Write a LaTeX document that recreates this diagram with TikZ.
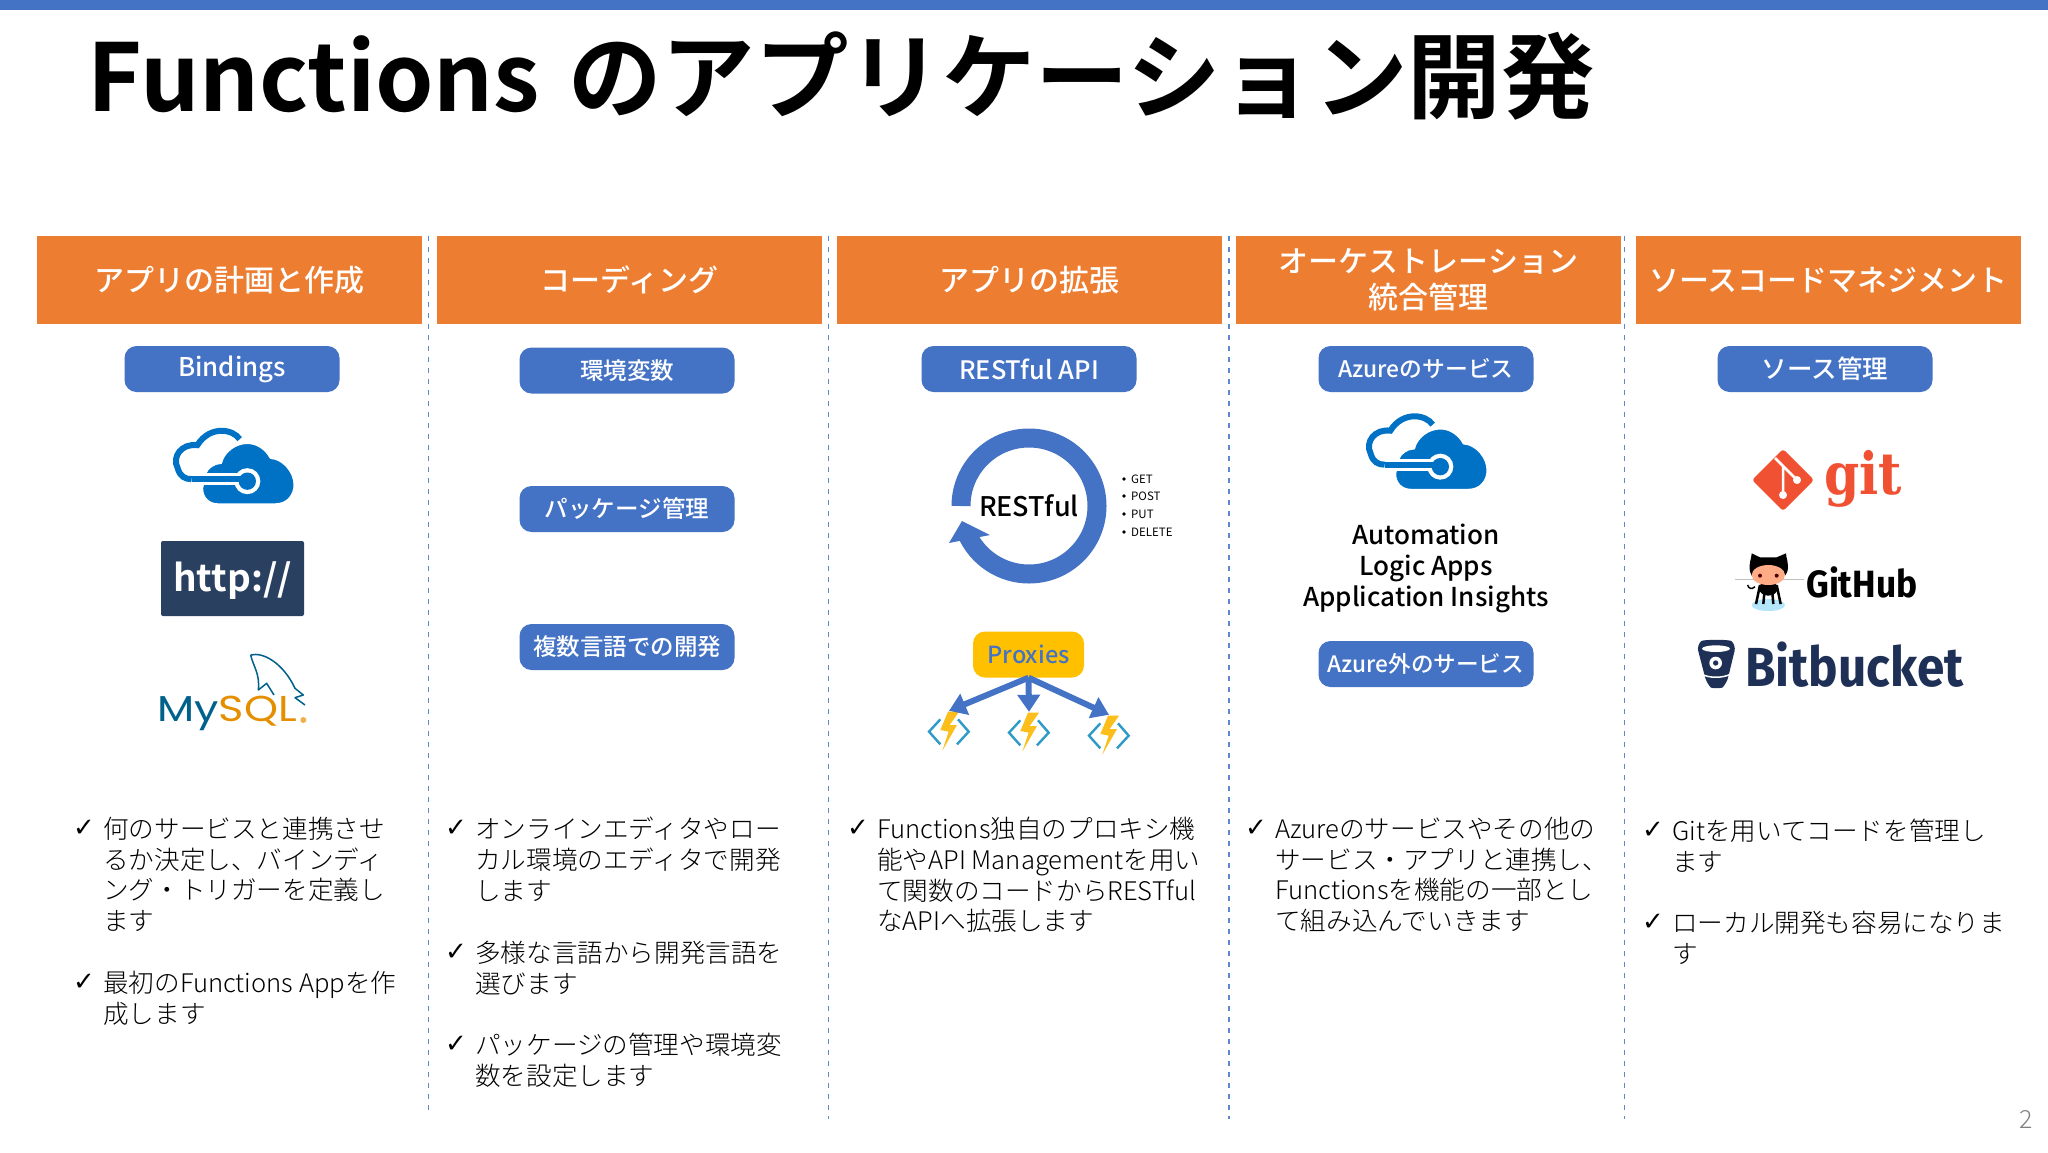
\documentclass[tikz,border=0pt]{standalone}
\usepackage{fontspec}
\usepackage{graphicx}
\setmainfont{Noto Sans CJK JP}
\newfontfamily\lightfont{Noto Sans CJK JP Light}
\newfontfamily\medfont{Noto Sans CJK JP Medium}
\newfontfamily\boldfont{Noto Sans CJK JP Bold}
\newfontfamily\checkfont{DejaVu Sans Bold}
\newfontfamily\logofont{Fira Sans Bold}
\newfontfamily\gitfont{DejaVu Serif Bold}
\newfontfamily\sqlfont{Poppins}
\usetikzlibrary{arrows.meta,calc}

\definecolor{barblue}{HTML}{4472C4}
\definecolor{headorange}{HTML}{ED7D31}
\definecolor{azureblue}{HTML}{0072C6}
\definecolor{httpnavy}{HTML}{2A4060}
\definecolor{proxyyellow}{HTML}{FFC000}
\definecolor{gitred}{HTML}{F05133}
\definecolor{bucketnavy}{HTML}{1F3057}
\definecolor{sqlteal}{HTML}{00618A}
\definecolor{sqlorange}{HTML}{E48E00}
\definecolor{fnteal}{HTML}{2E9BC6}
\definecolor{fnbolt}{HTML}{FCBE1B}

\newcommand{\sizept}[1]{\fontsize{#1}{28}\selectfont}

\tikzset{
  headbox/.style={fill=headorange, text=white, minimum width=385, minimum height=88, inner sep=0, align=center, font=\medfont\fontsize{30}{36}\selectfont},
  pillbox/.style={fill=barblue, text=white, rounded corners=12, minimum width=215, minimum height=46, inner sep=0, font=\medfont\fontsize{23.5}{28}\selectfont},
  tickmark/.style={inner sep=0, font=\checkfont\fontsize{26}{28}\selectfont},
  bodytext/.style={anchor=north west, inner sep=0, align=left, font=\lightfont\fontsize{25.6}{30.7}\selectfont},
  sepline/.style={barblue!85, line width=1.4, dash pattern=on 5 off 6},
  fnslot/.style={minimum width=40, minimum height=40, inner sep=0},
  fanarrow/.style={barblue, line width=6, -{Triangle[length=17,width=22]}}
}

% Azure cloud, local units are a third of a pixel
\newcommand{\azurecloud}[1]{%
  \begin{scope}[shift={#1},scale=1/3]
    \draw[azureblue, line width=6] (14,-82) .. controls (-5,-112) and (-75,-125) .. (-113,-64) .. controls (-160,-70) and (-190,-30) .. (-172,5) .. controls (-165,30) and (-150,38) .. (-130,38);
    \path[fill=azureblue, draw=white, line width=3] (-100,65) .. controls (-100,95) and (-80,115) .. (-50,115) -- (120,115) .. controls (160,115) and (180,85) .. (180,55) .. controls (180,15) and (145,-25) .. (108,-27) .. controls (90,-60) and (60,-72) .. (37,-72) .. controls (0,-72) and (-35,-45) .. (-43,-12) .. controls (-65,-12) and (-85,5) .. (-90,20) -- cycle;
    \draw[white, line width=12] (-95,38) -- (30,38);
    \fill[white] (37,44) circle (39);
    \draw[azureblue, line width=6] (-130,38) -- (30,38);
    \fill[azureblue] (37,44) circle (26);
  \end{scope}}

% Functions icon, chevrons and bolt
\newcommand{\fnicon}[1]{%
  \begin{scope}[shift={#1},scale=1/3]
    \draw[fnteal, line width=2.4] (-26,-35) -- (-60,2) -- (-26,40);
    \draw[fnteal, line width=2.4] (27,-35) -- (59,2) -- (24,40);
    \fill[fnbolt] (30,-58) -- (-3,-58) -- (-26,-3) -- (-1,2) -- (-20,59) -- (24,-18) -- (2,-18) -- cycle;
  \end{scope}}

\begin{document}
\begin{tikzpicture}[x=1pt,y=-1pt]
  \useasboundingbox (0,0) rectangle (2048,1152);
  \fill[white] (0,0) rectangle (2048,1152);

  % Top bar and title
  \fill[barblue] (0,0) rectangle (2048,10);
  \node[anchor=west, inner sep=0, font=\boldfont\fontsize{93.5}{100}\selectfont] (title) at (87,76) {Functions\hspace{7pt} のアプリケーション開発};

  % Column heads
  \foreach \i/\x/\label in {1/229.5/アプリの計画と作成, 2/629.5/コーディング, 3/1029/アプリの拡張, 4/1428.5/{オーケストレーション\\統合管理}, 5/1828.5/ソースコードマネジメント}
  \node[headbox] (head\i) at (\x,280) {\label};

  % Dashed separators
  \foreach \i/\x/\y in {1/428.7/1113, 2/828.7/1119, 3/1229/1119, 4/1624.5/1119} {
    \coordinate (sept\i) at (\x,236);
    \coordinate (sepb\i) at (\x,\y);
    \draw[sepline] (sept\i) -- (sepb\i);
  }

  % Blue pills
  \foreach \i/\x/\y/\label in {1/232/369/{\sizept{25.8}Bindings}, 2/627/370.5/環境変数, 3/627/509/パッケージ管理, 4/627/647/複数言語での開発, 5/1029/369/{\sizept{25.4}RESTful API}, 6/1426/369/{\sizept{22.8}Azureのサービス}, 7/1426/664/{\sizept{22.6}Azure外のサービス}, 8/1825/369/{\sizept{25.5}ソース管理}}
  \node[pillbox] (pill\i) at (\x,\y) {\label};

  % Check marks and their texts
  \foreach \i/\x/\y/\body in {
    1/103/817/{何のサービスと連携させ\\るか決定し、バインディ\\ング・トリガーを定義し\\ます},
    2/103/971/{最初のFunctions Appを作\\成します},
    3/475/817/{オンラインエディタやロー\\カル環境のエディタで開発\\します},
    4/475/941/{多様な言語から開発言語を\\選びます},
    5/475/1033/{パッケージの管理や環境変\\数を設定します},
    6/877/817/{Functions独自のプロキシ機\\能やAPI Managementを用い\\て関数のコードからRESTful\\なAPIへ拡張します},
    7/1275/817/{Azureのサービスやその他の\\サービス・アプリと連携し、\\Functionsを機能の一部とし\\て組み込んでいきます},
    8/1672/819/{Gitを用いてコードを管理し\\ます},
    9/1672/911/{ローカル開発も容易になりま\\す}} {
    \node[bodytext] (body\i) at (\x,\y) {\body};
    \node[tickmark] (tick\i) at ({\x-19},{\y+11}) {✓};
  }

  % Column 1 logos
  \azurecloud{(235,466.5)}
  \node[fill=httpnavy, rounded corners=2, minimum width=143, minimum height=75, inner sep=0] (httpbox) at (232.5,578.5) {};
  \node[text=white, inner sep=0, font=\boldfont\fontsize{37}{40}\selectfont] (http) at (232.5,581) {http://};
  \node[anchor=west, inner sep=0, font=\sqlfont\fontsize{36}{40}\selectfont] (mysql) at (157,713) {\scalebox{1.2}[1]{\textcolor{sqlteal}{My}\textcolor{sqlorange}{SQL}}};
  \begin{scope}[shift={(130,330)},scale=1/3]
    \fill[sqlorange!70] (520,1170) circle (9);
    \draw[sqlteal, line width=1.5, line join=round] (362,975) .. controls (400,965) and (460,1000) .. (495,1075) -- (520,1095) -- (495,1103) -- (525,1125);
    \draw[sqlteal, line width=1.5, line join=round] (362,975) .. controls (370,1010) and (390,1030) .. (385,1080) -- (410,1060) -- (432,1095);
  \end{scope}

  % Column 3 picture
  \coordinate (ringc) at (1029,506);
  \draw[barblue, line width=19] ($(ringc)+(180:68)$) arc (180:517:68);
  \fill[barblue] (949,543) -- (962,521) -- (990,535) -- cycle;
  \node[font=\medfont\fontsize{27}{32}\selectfont] (restful) at (1029,506) {RESTful};
  \foreach \i/\y/\label in {1/479/GET, 2/496/POST, 3/514/PUT, 4/532/DELETE} {
    \node[anchor=west, inner sep=0, font=\fontsize{11.5}{14}\selectfont] (verb\i) at (1131,\y) {\label};
    \fill (1124,\y) circle (1.8);
  }
  \node[fill=proxyyellow, text=barblue, rounded corners=12, minimum width=111, minimum height=46, inner sep=0, font=\medfont\fontsize{23.5}{28}\selectfont] (proxies) at (1028.5,654.5) {Proxies};
  \foreach \i/\x/\y in {1/949/731, 2/1029/732, 3/1109/735} {
    \node[fnslot] (fn\i) at (\x,\y) {};
    \fnicon{(\x,\y)}
    \draw[fanarrow] (proxies.south) -- (fn\i.north);
  }

  % Column 4 picture
  \azurecloud{(1428,452)}
  \node[align=center, inner sep=0, font=\medfont\fontsize{26}{31}\selectfont] (services) at (1426,568.5) {Automation\\Logic Apps\\Application Insights};

  % Column 5 logos
  \fill[gitred, rounded corners=3] (1783,449) -- (1814,480) -- (1783,511) -- (1752,480) -- cycle;
  \draw[white, line width=2.5] (1775,458) -- (1797,480) (1783,466) -- (1783,495);
  \fill[white] (1797,480) circle (4) (1783,495) circle (4);
  \node[anchor=west, inner sep=0, text=gitred, font=\gitfont\fontsize{58}{60}\selectfont] (git) at (1824,479) {\scalebox{0.87}[1]{git}};
  \begin{scope}[shift={(1680,420)},scale=1/3]
    \draw[black!25, line width=1] (165,478) -- (372,478);
    \fill[cyan!30] (265,555) ellipse (50 and 18);
    \draw[black, line width=1.5] (225,500) .. controls (215,510) and (205,505) .. (203,495);
    \foreach \x/\e in {240/228, 255/250, 275/280, 290/302}
    \draw[black, line width=2.5] (\x,495) -- (\e,552);
    \fill[black] (265,505) ellipse (28 and 22);
    \fill[black] (210,455) .. controls (205,430) and (215,415) .. (215,400) -- (240,412) -- (290,412) -- (318,400) .. controls (318,415) and (328,430) .. (322,455) .. controls (320,485) and (210,490) .. (210,455) -- cycle;
    \fill[orange!30!pink] (265,465) ellipse (50 and 30);
    \fill[black!70!red] (240,467) circle (6) (290,467) circle (6);
  \end{scope}
  \node[anchor=west, inner sep=0, font=\logofont\fontsize{38}{40}\selectfont] (github) at (1806,582) {\scalebox{0.93}[1]{GitHub}};
  \begin{scope}[shift={(1680,420)},scale=1/3]
    \fill[bucketnavy, rounded corners=6] (50,675) .. controls (70,658) and (148,658) .. (168,675) -- (140,790) .. controls (125,805) and (95,805) .. (80,790) -- cycle;
    \fill[white] (108,686) ellipse (42 and 10);
    \draw[white, line width=1.5] (65,762) .. controls (85,775) and (130,775) .. (152,762);
    \fill[white] (107,729) circle (19);
    \fill[bucketnavy] (107,729) circle (8);
  \end{scope}
  \node[anchor=west, inner sep=0, text=bucketnavy, font=\logofont\fontsize{55}{58}\selectfont] (bitbucket) at (1745,665) {\scalebox{0.9}[1]{Bitbucket}};

  % Page number
  \node[text=black!50, inner sep=0, font=\lightfont\fontsize{25}{28}\selectfont] (pagenum) at (2026,1119) {2};
\end{tikzpicture}
\end{document}
